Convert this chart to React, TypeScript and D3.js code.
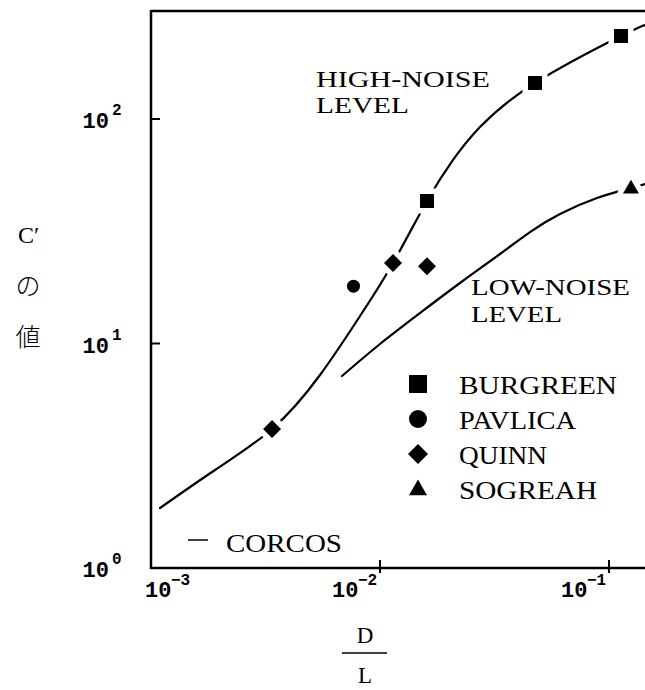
import React from 'react';
import * as d3 from 'd3';

// ---- data ----
const highNoiseX = [0.001095, 0.001904, 0.003377, 0.00547, 0.008344, 0.0114, 0.01604, 0.02084, 0.02733, 0.04752, 0.1128, 0.1437];
const highNoiseY = [1.85, 2.733, 4.161, 7.238, 13.67, 22.84, 43.12, 65.7, 92.1, 144.7, 234.3, 262.2];
const lowNoiseX = [0.006823, 0.01, 0.01495, 0.02235, 0.03342, 0.04519, 0.0611, 0.08863, 0.1247, 0.1437];
const lowNoiseY = [7.164, 9.95, 13.67, 18.6, 25.04, 31.37, 37.74, 44.48, 49.28, 51.34];

const burgreenX = [0.01604, 0.04752, 0.1128];
const burgreenY = [43.12, 144.7, 234.3];
const pavlicaX = [0.00766];
const pavlicaY = [18.0];
const quinnX = [0.003377, 0.0114, 0.01604];
const quinnY = [4.161, 22.84, 22.1];
const sogreahX = [0.1247];
const sogreahY = [49.28];

const xTickValues = [1e-3, 1e-2, 1e-1];
const xTickExponents = ['\u22123', '\u22122', '\u22121'];
const yTickValues = [1, 10, 100];
const yTickExponents = ['0', '1', '2'];

const legendLabels = ['BURGREEN', 'PAVLICA', 'QUINN', 'SOGREAH'];
const legendShapes = ['square', 'circle', 'diamond', 'triangle'];

// ---- layout ----
const W = 645;
const H = 690;
const left = 151;
const bottom = 568;
const top = 11;
const serif = '"Liberation Serif", "Times New Roman", serif';
const mono = '"Liberation Mono", "DejaVu Sans Mono", monospace';

const x = d3.scaleLog().domain([1e-3, 1e-1]).range([left, 609]);
const y = d3.scaleLog().domain([1, 100]).range([bottom, 119]);

function Marker({ shape, cx, cy, s, halo }: { shape: string; cx: number; cy: number; s: number; halo?: number }) {
  const fill = halo ? '#fff' : '#000';
  const stroke = halo ? '#fff' : 'none';
  const sw = halo || 0;
  if (shape === 'square') {
    return <rect x={cx - s / 2} y={cy - s / 2} width={s} height={s} fill={fill} stroke={stroke} strokeWidth={sw} />;
  }
  if (shape === 'circle') {
    return <circle cx={cx} cy={cy} r={s / 2} fill={fill} stroke={stroke} strokeWidth={sw} />;
  }
  if (shape === 'diamond') {
    const h = s / 2;
    const p = `M${cx},${cy - h}L${cx + h},${cy}L${cx},${cy + h}L${cx - h},${cy}Z`;
    return <path d={p} fill={fill} stroke={stroke} strokeWidth={sw} strokeLinejoin="round" />;
  }
  const h = s * 0.87;
  const p = `M${cx},${cy - h * 0.6}L${cx + s / 2},${cy + h * 0.4}L${cx - s / 2},${cy + h * 0.4}Z`;
  return <path d={p} fill={fill} stroke={stroke} strokeWidth={sw} strokeLinejoin="round" />;
}

export default function App() {
  const line = d3
    .line<[number, number]>()
    .x((d) => x(d[0]))
    .y((d) => y(d[1]))
    .curve(d3.curveNatural);

  const highPts = highNoiseX.map((v, i) => [v, highNoiseY[i]] as [number, number]);
  const lowPts = lowNoiseX.map((v, i) => [v, lowNoiseY[i]] as [number, number]);

  const series = [
    { shape: 'square', xs: burgreenX, ys: burgreenY, s: 14 },
    { shape: 'circle', xs: pavlicaX, ys: pavlicaY, s: 13 },
    { shape: 'diamond', xs: quinnX, ys: quinnY, s: 18 },
    { shape: 'triangle', xs: sogreahX, ys: sogreahY, s: 16 },
  ];

  const textBlocks = [
    { t: 'HIGH-NOISE', x: 316, y: 87, w: 174 },
    { t: 'LEVEL', x: 316, y: 113, w: 93 },
    { t: 'LOW-NOISE', x: 471, y: 295, w: 159 },
    { t: 'LEVEL', x: 471, y: 322, w: 91 },
  ];
  const legendWidths = [158, 117, 88, 138];

  return (
    <svg width={W} height={H} style={{ position: 'absolute', left: 0, top: 0, display: 'block', background: '#fff' }}>
      <defs>
        <clipPath id="plot">
          <rect x={left} y={top} width={W - left} height={bottom - top} />
        </clipPath>
      </defs>
      <rect x={0} y={0} width={W} height={H} fill="#fff" />

      {/* curves */}
      <g clipPath="url(#plot)" fill="none" stroke="#000" strokeWidth={2.2} strokeLinecap="round">
        <path d={line(highPts) || ''} />
        <path d={line(lowPts) || ''} />
      </g>

      {/* markers with white halos that break the curves */}
      <g clipPath="url(#plot)">
        {series.map((se) =>
          se.xs.map((v, i) => (
            <Marker key={`h-${se.shape}-${i}`} shape={se.shape} cx={x(v)} cy={y(se.ys[i])} s={se.s} halo={11} />
          ))
        )}
        {series.map((se) =>
          se.xs.map((v, i) => <Marker key={`m-${se.shape}-${i}`} shape={se.shape} cx={x(v)} cy={y(se.ys[i])} s={se.s} />)
        )}
      </g>

      {/* frame */}
      <g stroke="#000" strokeWidth={2.5} fill="none">
        <line x1={left} y1={top} x2={W} y2={top} />
        <line x1={left} y1={top - 1} x2={left} y2={bottom + 1} />
        <line x1={left - 1} y1={bottom} x2={W} y2={bottom} />
      </g>

      {/* y ticks */}
      {yTickValues.map((v, i) => (
        <g key={`yt-${i}`}>
          {i > 0 && <line x1={left} x2={left + 9} y1={y(v)} y2={y(v)} stroke="#000" strokeWidth={2} />}
          <text x={109} y={y(v) + 9} textAnchor="end" fontFamily={mono} fontWeight="bold" fontSize={22} fill="#000">
            10
          </text>
          <text x={112} y={y(v) - 4} fontFamily={mono} fontWeight="bold" fontSize={16} fill="#000">
            {yTickExponents[i]}
          </text>
        </g>
      ))}

      {/* x ticks */}
      {xTickValues.map((v, i) => {
        const px = x(v);
        const first = i === 0;
        const startX = first ? px - 6 : px - 48;
        return (
          <g key={`xt-${i}`}>
            {!first && <line x1={px} x2={px} y1={bottom - 8} y2={bottom + 5} stroke="#000" strokeWidth={2} />}
            <text x={startX} y={bottom + 29} fontFamily={mono} fontWeight="bold" fontSize={22} fill="#000">
              10
            </text>
            <text x={startX + 26} y={bottom + 17} fontFamily={mono} fontWeight="bold" fontSize={16} fill="#000">
              {xTickExponents[i]}
            </text>
          </g>
        );
      })}

      {/* annotations */}
      {textBlocks.map((b, i) => (
        <text key={`tb-${i}`} x={b.x} y={b.y} fontFamily={serif} fontSize={24} textLength={b.w} lengthAdjust="spacingAndGlyphs" fill="#000">
          {b.t}
        </text>
      ))}

      {/* legend */}
      {legendLabels.map((lab, i) => {
        const cy = 384 + i * 35;
        return (
          <g key={`lg-${i}`}>
            <Marker shape={legendShapes[i]} cx={418} cy={cy} s={legendShapes[i] === 'diamond' ? 20 : 18} />
            <text x={459} y={cy + 10} fontFamily={serif} fontSize={26} textLength={legendWidths[i]} lengthAdjust="spacingAndGlyphs" fill="#000">
              {lab}
            </text>
          </g>
        );
      })}

      {/* CORCOS */}
      <line x1={188} x2={208} y1={540} y2={540} stroke="#000" strokeWidth={1.5} />
      <text x={226} y={552} fontFamily={serif} fontSize={26} textLength={116} lengthAdjust="spacingAndGlyphs" fill="#000">
        CORCOS
      </text>

      {/* y-axis label */}
      <text x={18} y={243} fontFamily={serif} fontSize={24} fill="#000">
        C′
      </text>
      <text x={28} y={295} textAnchor="middle" fontFamily='"Noto Sans CJK JP", sans-serif' fontWeight={300} fontSize={25} fill="#000">
        の
      </text>
      <text x={28} y={346} textAnchor="middle" fontFamily='"Noto Sans CJK JP", sans-serif' fontWeight={300} fontSize={25} fill="#000">
        値
      </text>

      {/* x-axis label D / L */}
      <text x={365} y={643} textAnchor="middle" fontFamily={serif} fontSize={23} fill="#000">
        D
      </text>
      <line x1={342} x2={387} y1={653} y2={653} stroke="#000" strokeWidth={1.5} />
      <text x={365} y={683} textAnchor="middle" fontFamily={serif} fontSize={23} fill="#000">
        L
      </text>
    </svg>
  );
}
